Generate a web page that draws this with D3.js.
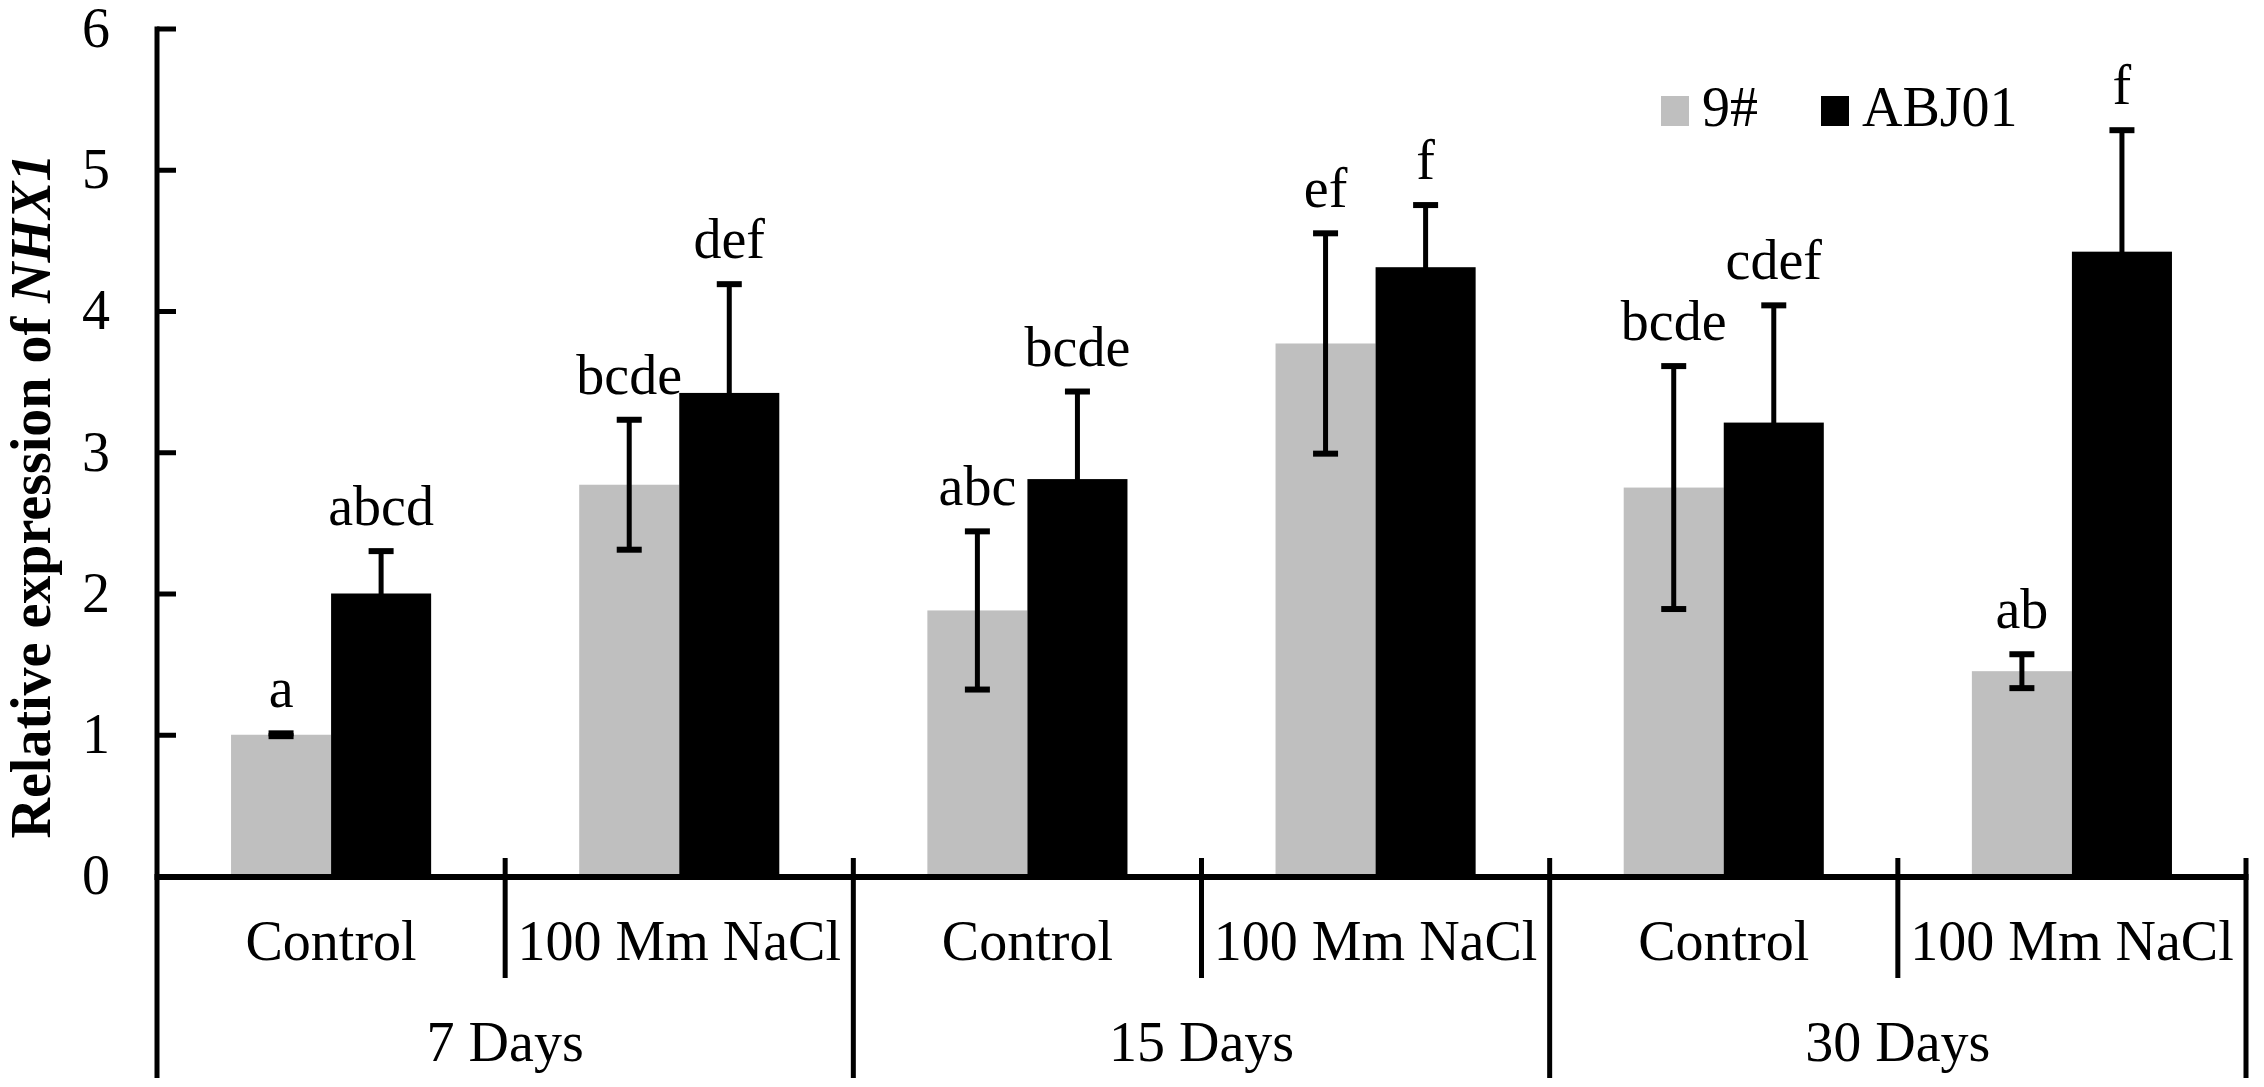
<!DOCTYPE html>
<html>
<head>
<meta charset="utf-8">
<script src="https://cdn.jsdelivr.net/npm/d3@7/dist/d3.min.js"></script>
<style>
  html, body { margin: 0; padding: 0; background: #fff; }
  svg { display: block; }
  text { font-family: "Liberation Serif", "Times New Roman", serif; fill: #000; }
</style>
</head>
<body>
<svg id="chart" width="2264" height="1087"></svg>
<script>
// ---- data ----
const groups = ["7 Days", "15 Days", "30 Days"];
const treatments = ["Control", "100 Mm NaCl"];
const series = ["9#", "ABJ01"];
const means9 = [1.00, 2.77, 1.88, 3.77, 2.75, 1.45];
const meansABJ = [2.00, 3.42, 2.81, 4.31, 3.21, 4.42];
const err9 = [0.01, 0.46, 0.56, 0.78, 0.86, 0.12];
const errABJ = [0.30, 0.77, 0.62, 0.44, 0.83, 0.86];
const letters9 = ["a", "bcde", "abc", "ef", "bcde", "ab"];
const lettersABJ = ["abcd", "def", "bcde", "f", "cdef", "f"];
const yTicks = [0, 1, 2, 3, 4, 5, 6];
const colors = ["#bfbfbf", "#000000"];

(function () {
// ---- layout ----
const svg = d3.select("#chart");
const mLeft = 157, mRight = 2246, mTop = 28.5, mBase = 876;
const FS = 56;

const cats = [];
groups.forEach(g => treatments.forEach(t => cats.push(g + "|" + t)));

const x = d3.scaleBand().domain(cats).range([mLeft, mRight]).padding(0);
const xs = d3.scaleBand().domain(series).range([0, x.bandwidth()]).paddingInner(0).paddingOuter(0.74);
const y = d3.scaleLinear().domain([0, 6]).range([mBase, mTop]);

const rows = cats.map((c, i) => ({
  cat: c,
  vals: [
    { s: series[0], v: means9[i], e: err9[i], l: letters9[i], c: colors[0] },
    { s: series[1], v: meansABJ[i], e: errABJ[i], l: lettersABJ[i], c: colors[1] }
  ]
}));

// bars
const g = svg.append("g");
const cg = g.selectAll("g.cat").data(rows).join("g")
  .attr("class", "cat")
  .attr("transform", d => `translate(${x(d.cat)},0)`);

cg.selectAll("rect").data(d => d.vals).join("rect")
  .attr("x", d => xs(d.s))
  .attr("width", xs.bandwidth())
  .attr("y", d => y(d.v))
  .attr("height", d => y(0) - y(d.v))
  .attr("fill", d => d.c);

// error bars
const capW = 25;
cg.selectAll("g.err").data(d => d.vals).join("g").attr("class", "err").each(function(d) {
  const cx = xs(d.s) + xs.bandwidth() / 2;
  const sel = d3.select(this);
  sel.append("line").attr("x1", cx).attr("x2", cx)
    .attr("y1", y(d.v - d.e)).attr("y2", y(d.v + d.e))
    .attr("stroke", "#000").attr("stroke-width", 5);
  [d.v - d.e, d.v + d.e].forEach(v => {
    sel.append("line").attr("x1", cx - capW / 2).attr("x2", cx + capW / 2)
      .attr("y1", y(v)).attr("y2", y(v))
      .attr("stroke", "#000").attr("stroke-width", 6);
  });
});

// significance letters
cg.selectAll("text.sig").data(d => d.vals).join("text")
  .attr("class", "sig")
  .attr("x", d => xs(d.s) + xs.bandwidth() / 2)
  .attr("y", d => y(d.v + d.e) - 26)
  .attr("text-anchor", "middle")
  .attr("font-size", FS)
  .text(d => d.l);

// y axis
const yAxis = d3.axisLeft(y).tickValues(yTicks).tickSize(-19).tickPadding(47).tickFormat(d3.format("d"));
const ya = svg.append("g").attr("transform", `translate(${mLeft},0)`).call(yAxis);
ya.select(".domain").remove();
ya.selectAll(".tick line").attr("stroke", "#000").attr("stroke-width", 5);
ya.selectAll(".tick text").attr("font-size", FS).attr("font-family", "Liberation Serif, Times New Roman, serif").attr("fill", "#000");
// y axis line (extends through category rows)
svg.append("line").attr("x1", mLeft).attr("x2", mLeft).attr("y1", mTop - 2).attr("y2", 1078)
  .attr("stroke", "#000").attr("stroke-width", 5);

// x axis line
svg.append("line").attr("x1", mLeft - 2.5).attr("x2", mRight + 2.5).attr("y1", mBase + 1).attr("y2", mBase + 1)
  .attr("stroke", "#000").attr("stroke-width", 6);

// category separators
cats.forEach((c, i) => {
  if (i === 0) return;
  const xx = x(c);
  const isGroup = i % treatments.length === 0;
  svg.append("line").attr("x1", xx).attr("x2", xx)
    .attr("y1", 858).attr("y2", isGroup ? 1078 : 978)
    .attr("stroke", "#000").attr("stroke-width", 5);
});
svg.append("line").attr("x1", mRight).attr("x2", mRight).attr("y1", 858).attr("y2", 1078)
  .attr("stroke", "#000").attr("stroke-width", 5);

// treatment labels
svg.selectAll("text.tl").data(cats).join("text")
  .attr("class", "tl")
  .attr("x", d => x(d) + x.bandwidth() / 2)
  .attr("y", 960)
  .attr("text-anchor", "middle")
  .attr("font-size", FS)
  .text(d => d.split("|")[1]);

// group labels
svg.selectAll("text.gl").data(groups).join("text")
  .attr("class", "gl")
  .attr("x", d => x(d + "|" + treatments[0]) + x.bandwidth() * treatments.length / 2)
  .attr("y", 1061)
  .attr("text-anchor", "middle")
  .attr("font-size", FS)
  .text(d => d);

// y title
const yt = svg.append("text")
  .attr("transform", `translate(50,496) rotate(-90)`)
  .attr("text-anchor", "middle")
  .attr("font-size", FS)
  .attr("font-weight", "bold");
yt.append("tspan").text("Relative expression of ");
yt.append("tspan").attr("font-style", "italic").text("NHX1");

// legend
const legX = [1661, 1821];
const leg = svg.append("g");
series.forEach((s, i) => {
  leg.append("rect").attr("x", legX[i]).attr("y", 96).attr("width", 28).attr("height", 30).attr("fill", colors[i]);
  leg.append("text").attr("x", legX[i] + 41).attr("y", 126).attr("font-size", FS).text(s);
});
})();
</script>
</body>
</html>
